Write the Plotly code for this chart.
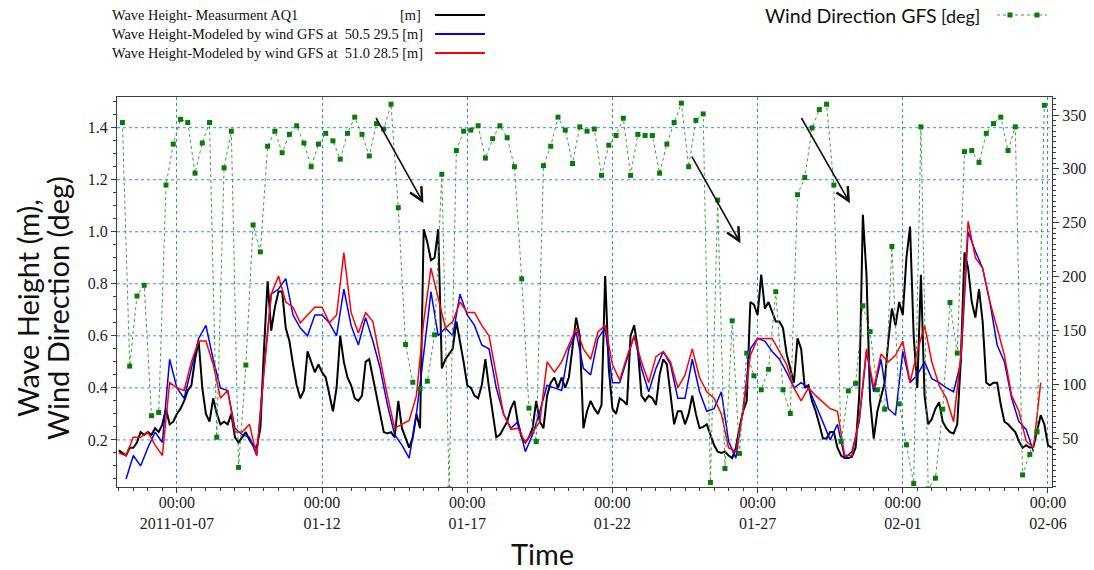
import pandas as pd
import plotly.graph_objects as go

# Measured significant wave height at AQ1 [m], 3-hourly from 2011-01-05 00:00
measured_aq1 = [
    0.16, 0.15, 0.14, 0.17, 0.17, 0.19, 0.23, 0.22,      # 01-05
    0.23, 0.22, 0.245, 0.23, 0.26, 0.32, 0.26, 0.27,     # 01-06
    0.30, 0.32, 0.35, 0.39, 0.41, 0.51, 0.58, 0.40,      # 01-07
    0.30, 0.27, 0.36, 0.30, 0.26, 0.27, 0.26, 0.30,      # 01-08
    0.21, 0.19, 0.21, 0.23, 0.20, 0.18, 0.17, 0.245,     # 01-09
    0.55, 0.81, 0.62, 0.71, 0.77, 0.77, 0.63, 0.58,      # 01-10
    0.49, 0.41, 0.36, 0.39, 0.54, 0.50, 0.46, 0.49,      # 01-11
    0.46, 0.44, 0.37, 0.31, 0.40, 0.60, 0.50, 0.44,      # 01-12
    0.41, 0.36, 0.35, 0.37, 0.50, 0.51, 0.44, 0.37,      # 01-13
    0.30, 0.23, 0.225, 0.23, 0.21, 0.35, 0.245, 0.21,    # 01-14
    0.17, 0.21, 0.30, 0.245, 1.01, 0.96, 0.89, 0.90,     # 01-15
    1.01, 0.475, 0.51, 0.53, 0.55, 0.655, 0.58, 0.50,    # 01-16
    0.41, 0.40, 0.37, 0.36, 0.41, 0.51, 0.40, 0.30,      # 01-17
    0.21, 0.22, 0.245, 0.27, 0.32, 0.35, 0.26, 0.21,     # 01-18
    0.19, 0.21, 0.245, 0.35, 0.27, 0.245, 0.37, 0.42,    # 01-19
    0.44, 0.40, 0.44, 0.40, 0.44, 0.55, 0.67, 0.60,      # 01-20
    0.245, 0.31, 0.35, 0.32, 0.30, 0.335, 0.83, 0.475,   # 01-21
    0.32, 0.30, 0.36, 0.35, 0.335, 0.60, 0.64, 0.55,     # 01-22
    0.37, 0.35, 0.37, 0.36, 0.335, 0.45, 0.51, 0.49,     # 01-23
    0.37, 0.26, 0.31, 0.31, 0.26, 0.30, 0.37, 0.30,      # 01-24
    0.245, 0.25, 0.26, 0.22, 0.18, 0.155, 0.15, 0.155,   # 01-25
    0.14, 0.13, 0.17, 0.245, 0.31, 0.35, 0.73, 0.72,     # 01-26
    0.68, 0.835, 0.705, 0.73, 0.69, 0.655, 0.655, 0.63,  # 01-27
    0.53, 0.475, 0.42, 0.59, 0.55, 0.40, 0.41, 0.35,     # 01-28
    0.31, 0.26, 0.205, 0.205, 0.23, 0.23, 0.17, 0.14,    # 01-29
    0.13, 0.13, 0.135, 0.17, 0.37, 1.065, 0.835, 0.35,   # 01-30
    0.205, 0.31, 0.36, 0.42, 0.58, 0.705, 0.64, 0.73,    # 01-31
    0.68, 0.90, 1.02, 0.60, 0.40, 0.835, 0.37, 0.26,     # 02-01
    0.28, 0.32, 0.345, 0.27, 0.245, 0.23, 0.225, 0.26,   # 02-02
    0.51, 0.92, 0.86, 0.73, 0.67, 0.78, 0.655, 0.42,     # 02-03
    0.41, 0.42, 0.42, 0.335, 0.27, 0.26, 0.245, 0.23,    # 02-04
    0.195, 0.17, 0.18, 0.17, 0.175, 0.23, 0.295, 0.26,   # 02-05
    0.18, 0.17,                                          # 02-06
]

# Modelled wave height, GFS wind at 50.5 29.5 [m], 6-hourly from 2011-01-05 06:00
model_505_295 = [
    0.05, 0.14, 0.10,
    0.17, 0.23, 0.19, 0.51,
    0.40, 0.36, 0.47, 0.59,
    0.64, 0.51, 0.40, 0.39,
    0.245, 0.22, 0.21, 0.14,
    0.475, 0.76, 0.78, 0.82,
    0.68, 0.63, 0.60, 0.68,
    0.68, 0.65, 0.60, 0.78,
    0.64, 0.565, 0.67, 0.58,
    0.475, 0.335, 0.22, 0.18,
    0.13, 0.30, 0.53, 0.77,
    0.60, 0.63, 0.60, 0.76,
    0.68, 0.64, 0.565, 0.55,
    0.40, 0.30, 0.245, 0.27,
    0.155, 0.22, 0.31, 0.41,
    0.40, 0.39, 0.55, 0.615,
    0.475, 0.45, 0.59, 0.63,
    0.42, 0.42, 0.51, 0.60,
    0.475, 0.385, 0.475, 0.54,
    0.49, 0.36, 0.36, 0.51,
    0.385, 0.31, 0.32, 0.385,
    0.195, 0.13, 0.32, 0.55,
    0.59, 0.58, 0.54, 0.51,
    0.46, 0.40, 0.42, 0.40,
    0.335, 0.27, 0.20, 0.26,
    0.13, 0.155, 0.27, 0.54,
    0.385, 0.51, 0.32, 0.295,
    0.54, 0.42, 0.45, 0.50,
    0.435, 0.42, 0.40, 0.385,
    0.50, 1.00, 0.925, 0.86,
    0.73, 0.565, 0.50, 0.36,
    0.27, 0.24, 0.155,
]

# Modelled wave height, GFS wind at 51.0 28.5 [m], 6-hourly from 2011-01-05 00:00
model_510_285 = [
    0.15, 0.14, 0.21, 0.21,
    0.23, 0.18, 0.14, 0.42,
    0.40, 0.39, 0.50, 0.58,
    0.58, 0.49, 0.36, 0.39,
    0.23, 0.23, 0.26, 0.14,
    0.46, 0.76, 0.83, 0.73,
    0.71, 0.65, 0.68, 0.71,
    0.71, 0.65, 0.68, 0.92,
    0.69, 0.61, 0.69, 0.655,
    0.51, 0.37, 0.245, 0.26,
    0.275, 0.37, 0.655, 0.86,
    0.745, 0.63, 0.655, 0.73,
    0.69, 0.69, 0.64, 0.60,
    0.45, 0.30, 0.24, 0.245,
    0.19, 0.23, 0.27, 0.50,
    0.46, 0.50, 0.565, 0.63,
    0.55, 0.51, 0.615, 0.64,
    0.49, 0.43, 0.52, 0.60,
    0.50, 0.42, 0.52, 0.54,
    0.50, 0.40, 0.45, 0.55,
    0.44, 0.385, 0.36, 0.30,
    0.17, 0.155, 0.31, 0.525,
    0.59, 0.59, 0.59, 0.54,
    0.49, 0.40, 0.35, 0.40,
    0.37, 0.345, 0.32, 0.31,
    0.14, 0.14, 0.28, 0.55,
    0.40, 0.53, 0.50, 0.525,
    0.58, 0.42, 0.54, 0.64,
    0.50, 0.41, 0.36, 0.27,
    0.525, 1.04, 0.90, 0.86,
    0.73, 0.63, 0.525, 0.37,
    0.31, 0.195, 0.17, 0.42,
]

# GFS wind direction [deg], 6-hourly from 2011-01-05 03:00
wind_dir_gfs = [
    343, 117, 182, 192,
    71, 74, 285, 323,
    346, 343, 296, 324,
    343, 51, 301, 335,
    23, 118, 248, 223,
    321, 335, 315, 332,
    340, 324, 302, 323,
    333, 326, 309, 333,
    348, 332, 312, 342,
    337, 360, 264, 137,
    102, 96, 103, 146,
    295, 3, 317, 335,
    336, 340, 310, 328,
    340, 329, 302, 198,
    78, 47, 303, 321,
    348, 336, 305, 339,
    335, 337, 294, 322,
    331, 347, 294, 332,
    331, 331, 296, 323,
    343, 361, 302, 345,
    351, 9, 271, 22,
    159, 36, 129, 108,
    95, 114, 186, 95,
    73, 276, 292, 338,
    355, 360, 285, 47,
    94, 101, 173, 149,
    95, 77, 228, 82,
    44, 8, 339, 3,
    13, 77, 176, 129,
    316, 317, 306, 333,
    342, 348, 317, 339,
    16, 35, 56, 359,
]

tick_dates = ["2011-01-07", "2011-01-12", "2011-01-17", "2011-01-22",
              "2011-01-27", "2011-02-01", "2011-02-06"]
tick_labels = ["00:00<br>2011-01-07", "00:00<br>01-12", "00:00<br>01-17",
               "00:00<br>01-22", "00:00<br>01-27", "00:00<br>02-01",
               "00:00<br>02-06"]
height_ticks = [0.2, 0.4, 0.6, 0.8, 1.0, 1.2, 1.4]

t_meas = pd.date_range("2011-01-05 00:00", periods=len(measured_aq1), freq="3h")
t_505 = pd.date_range("2011-01-05 06:00", periods=len(model_505_295), freq="6h")
t_510 = pd.date_range("2011-01-05 00:00", periods=len(model_510_285), freq="6h")
t_wind = pd.date_range("2011-01-05 03:00", periods=len(wind_dir_gfs), freq="6h")

W, H = 1094, 570
L, R, T, B = 117, 1052, 97, 487


def fx(px):
    return (px - L) / (R - L)


def fy(py):
    return (B - py) / (B - T)


SERIF = "Liberation Serif"
SANS = "Lato"
GRID = "#2a8cff"
AXIS = "#3c3c3c"

fig = go.Figure()
fig.add_trace(go.Scatter(x=t_meas, y=measured_aq1, mode="lines",
                         line=dict(color="#000000", width=2),
                         name="Wave Height- Measurment AQ1 [m]"))
fig.add_trace(go.Scatter(x=t_505, y=model_505_295, mode="lines",
                         line=dict(color="#0000ff", width=1.5),
                         name="Wave Height-Modeled by wind GFS at 50.5 29.5 [m]"))
fig.add_trace(go.Scatter(x=t_510, y=model_510_285, mode="lines",
                         line=dict(color="#ff0000", width=1.5),
                         name="Wave Height-Modeled by wind GFS at 51.0 28.5 [m]"))
fig.add_trace(go.Scatter(x=t_wind, y=wind_dir_gfs, yaxis="y2",
                         mode="lines+markers",
                         line=dict(color="#3a9e3a", width=1, dash="3px,3px"),
                         marker=dict(symbol="square", size=5, color="#0b7a0b"),
                         name="Wind Direction GFS [deg]"))

annotations = []
shapes = []

# horizontal grid at the wave-height ticks
for v in height_ticks:
    shapes.append(dict(type="line", xref="paper", yref="y", x0=0, x1=1,
                       y0=v, y1=v, layer="below",
                       line=dict(color=GRID, width=1, dash="dot")))

# legend block, left: three wave-height series
LEG_FONT = dict(family=SERIF, size=14.4, color="#111")
legend_rows = [
    ("Wave Height- Measurment AQ1", "#000000", 15),
    ("Wave Height-Modeled by wind GFS at\u00a0\u00a050.5 29.5 [m]", "#0000ff", 34),
    ("Wave Height-Modeled by wind GFS at\u00a0\u00a051.0 28.5 [m]", "#ff0000", 53),
]
for label, colour, ypx in legend_rows:
    annotations.append(dict(text=label, xref="paper", yref="paper",
                            x=fx(110), y=fy(ypx), xanchor="left", yanchor="middle",
                            showarrow=False, font=LEG_FONT))
    shapes.append(dict(type="line", xref="paper", yref="paper",
                       x0=fx(435), x1=fx(485), y0=fy(ypx), y1=fy(ypx),
                       line=dict(color=colour, width=2.2)))
annotations.append(dict(text="[m]", xref="paper", yref="paper",
                        x=fx(423), y=fy(15), xanchor="right", yanchor="middle",
                        showarrow=False, font=LEG_FONT))

# legend block, right: wind direction
annotations.append(dict(text="Wind Direction GFS", xref="paper", yref="paper",
                        x=fx(763), y=fy(15), xanchor="left", yanchor="middle",
                        showarrow=False, font=dict(family=SANS, size=19.5, color="#111")))
annotations.append(dict(text="[deg]", xref="paper", yref="paper",
                        x=fx(939), y=fy(16), xanchor="left", yanchor="middle",
                        showarrow=False, font=dict(family=SANS, size=18, color="#111")))
shapes.append(dict(type="line", xref="paper", yref="paper",
                   x0=fx(997), x1=fx(1047), y0=fy(15), y1=fy(15),
                   line=dict(color="#3a9e3a", width=1, dash="3px,3px")))
for mx in (1010, 1037):
    shapes.append(dict(type="rect", xref="paper", yref="paper",
                       x0=fx(mx - 2.5), x1=fx(mx + 2.5), y0=fy(17.5), y1=fy(12.5),
                       line=dict(width=0), fillcolor="#0b7a0b"))

# axis titles
for line_text, xpx in (("Wave Height (m),", 27), ("Wind Direction (deg)", 57)):
    annotations.append(dict(text=line_text, xref="paper", yref="paper",
                            x=fx(xpx), y=fy(308), xanchor="center", yanchor="middle",
                            textangle=-90, showarrow=False,
                            font=dict(family=SANS, size=29, color="#111")))
annotations.append(dict(text="Time", xref="paper", yref="paper",
                        x=fx(542), y=fy(553), xanchor="center", yanchor="middle",
                        showarrow=False,
                        font=dict(family=SANS, size=29, color="#111")))

# arrows pointing at the storm peaks
arrows = [
    ("2011-01-13 19:55", 1.443, "2011-01-15 11:45", 1.11),
    ("2011-01-24 17:00", 1.295, "2011-01-26 09:50", 0.956),
    ("2011-01-28 11:30", 1.443, "2011-01-30 04:20", 1.11),
]
for tx, ty, hx, hy in arrows:
    annotations.append(dict(x=hx, y=hy, ax=tx, ay=ty, xref="x", yref="y",
                            axref="x", ayref="y", text="", showarrow=True,
                            arrowhead=5, arrowsize=1.6, arrowwidth=1.6,
                            arrowcolor="#111"))

fig.update_layout(
    width=W, height=H,
    margin=dict(l=L, r=W - R, t=T, b=H - B, autoexpand=False),
    paper_bgcolor="white", plot_bgcolor="white",
    showlegend=False,
    annotations=annotations, shapes=shapes,
    xaxis=dict(
        type="date", range=["2011-01-04 22:30", "2011-02-06 03:20"],
        tickmode="array", tickvals=tick_dates, ticktext=tick_labels,
        ticks="outside", ticklen=5, tickcolor=AXIS, ticklabelstandoff=-4,
        showline=True, linecolor=AXIS, linewidth=1, mirror=True,
        showgrid=True, gridcolor=GRID, griddash="dot", gridwidth=1,
        zeroline=False,
        tickfont=dict(family=SERIF, size=16, color="#222"),
        minor=dict(dtick=12 * 3600 * 1000, tick0="2011-01-07",
                   ticks="outside", ticklen=3, tickcolor=AXIS, showgrid=False),
    ),
    yaxis=dict(
        range=[0.019, 1.518], tickmode="array", tickvals=height_ticks,
        tickformat=".1f",
        ticks="outside", ticklen=5, tickcolor=AXIS,
        showline=True, linecolor=AXIS, linewidth=1,
        showgrid=False, zeroline=False,
        tickfont=dict(family=SERIF, size=16, color="#222"),
        minor=dict(dtick=0.05, tick0=0.0, ticks="outside", ticklen=3,
                   tickcolor=AXIS, showgrid=False),
    ),
    yaxis2=dict(
        overlaying="y", side="right", range=[4.8, 366.7],
        tickmode="linear", tick0=0, dtick=50,
        ticks="outside", ticklen=6, tickcolor=AXIS,
        showline=True, linecolor=AXIS, linewidth=1,
        showgrid=False, zeroline=False,
        tickfont=dict(family=SERIF, size=16, color="#222"),
        minor=dict(dtick=5, tick0=0, ticks="outside", ticklen=3,
                   tickcolor=AXIS, showgrid=False),
    ),
)

fig.write_html("out.html")
